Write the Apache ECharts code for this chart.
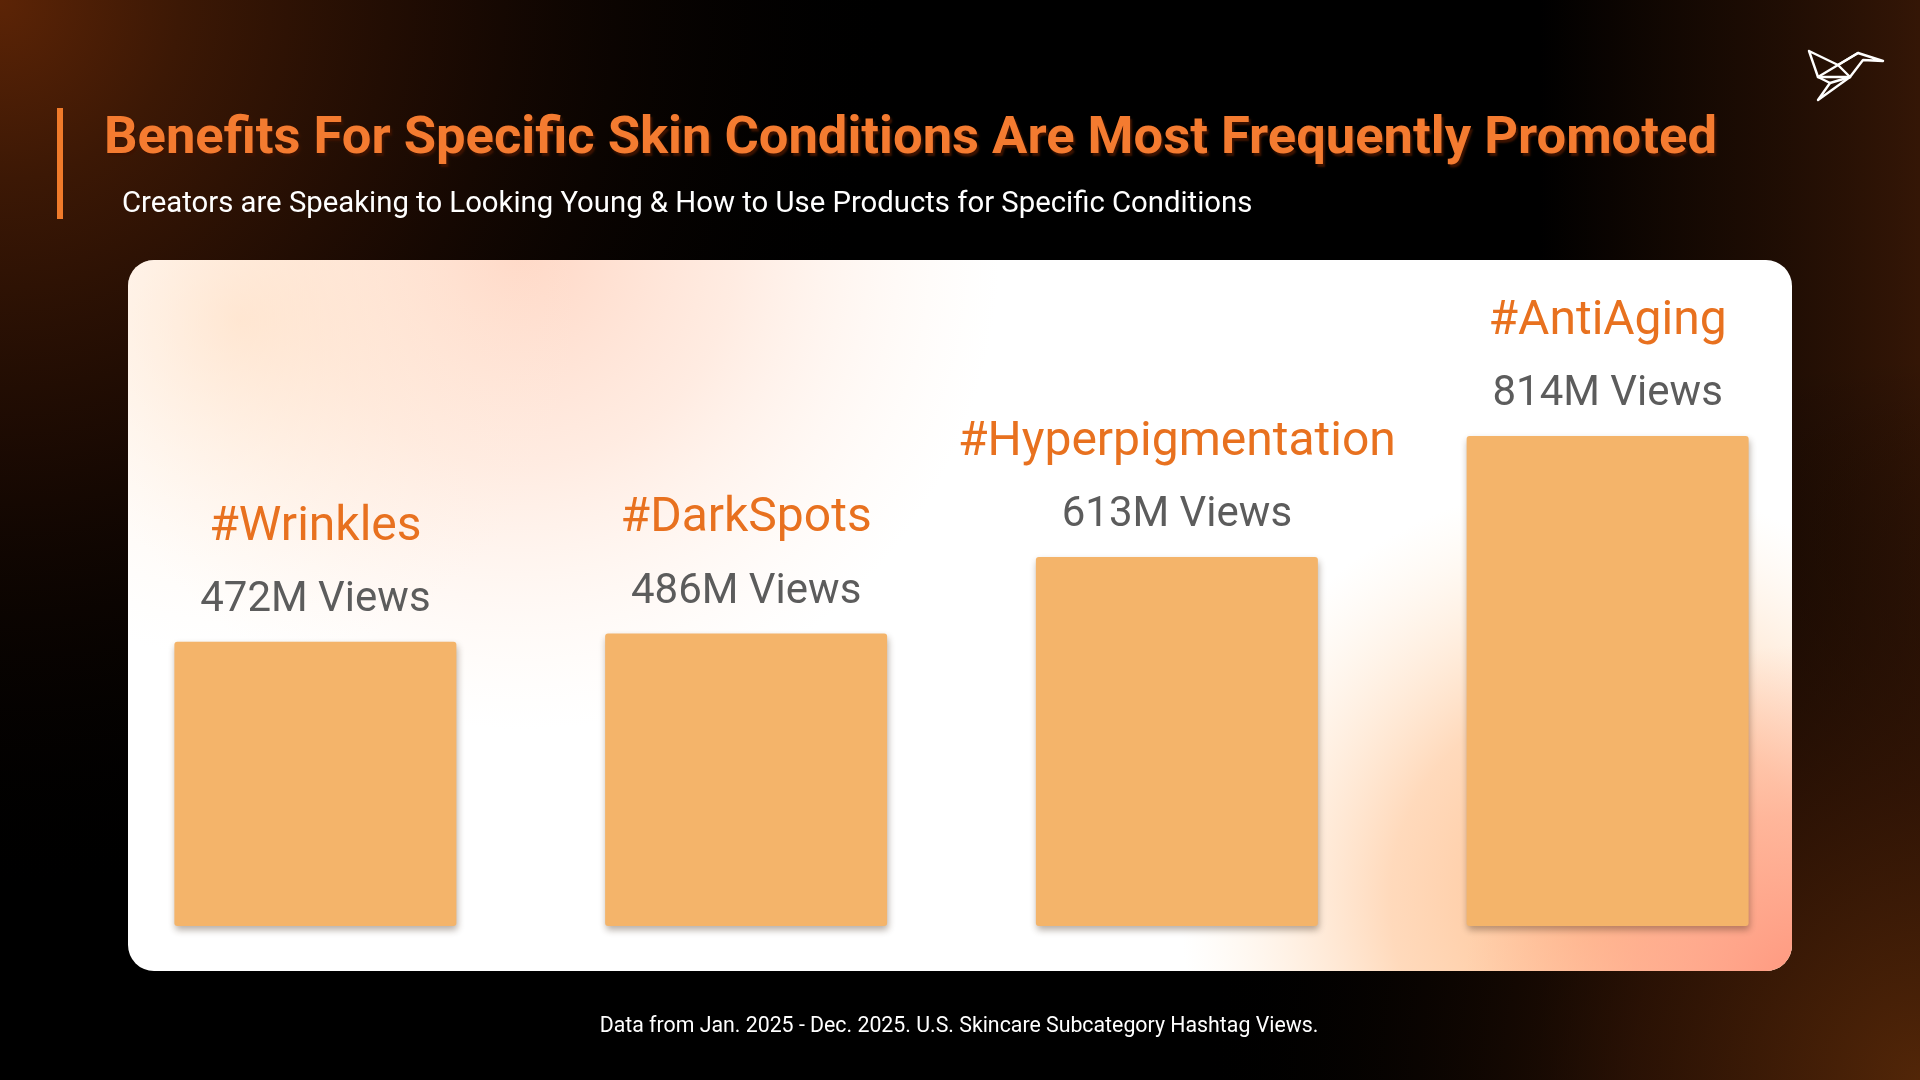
<!DOCTYPE html>
<html><head><meta charset="utf-8">
<script src="https://cdn.jsdelivr.net/npm/echarts@6/dist/echarts.min.js"></script>
<style>html,body{margin:0;padding:0;background:#000;overflow:hidden}#c{width:1920px;height:1080px}</style>
</head><body><div id="c"></div>
<script>
// ---- data ----
const categories = ['#Wrinkles', '#DarkSpots', '#Hyperpigmentation', '#AntiAging'];
const viewsMillions = [472, 486, 613, 814];
const titleText = 'Benefits For Specific Skin Conditions Are Most Frequently Promoted';
const subtitleText = 'Creators are Speaking to Looking Young & How to Use Products for Specific Conditions';
const footnoteText = 'Data from Jan. 2025 - Dec. 2025. U.S. Skincare Subcategory Hashtag Views.';

// ---- helpers ----
const measureCtx = document.createElement('canvas').getContext('2d');
function fitSize(text, weight, family, target) {
  measureCtx.font = weight + ' 100px ' + family;
  return 100 * target / measureCtx.measureText(text).width;
}
function radial(x, y, r, stops) {
  return { type: 'radial', x: x, y: y, r: r, global: true,
    colorStops: stops.map(s => ({ offset: s[0], color: s[1] })) };
}
function linear(x, y, x2, y2, stops) {
  return { type: 'linear', x: x, y: y, x2: x2, y2: y2, global: true,
    colorStops: stops.map(s => ({ offset: s[0], color: s[1] })) };
}

const W = 1920, H = 1080;
const panel = { x: 128, y: 260, width: 1664, height: 711, r: 26 };

const titleSize = fitSize(titleText, 'bold', 'Roboto', 1613);
const subSize = fitSize(subtitleText, 'normal', 'Roboto', 1131);
const footSize = fitSize(footnoteText, 'normal', 'Roboto', 719);

const bgLayers = [
  { type: 'rect', z: -10, shape: { x: 0, y: 0, width: W, height: H }, style: { fill: '#000' } },
  { type: 'rect', z: -10, shape: { x: 0, y: 0, width: W, height: H },
    style: { fill: radial(0, 0, 900, [[0, 'rgba(92,36,6,1)'], [0.2, 'rgba(60,24,5,1)'], [0.5, 'rgba(32,12,3,0.85)'], [1, 'rgba(0,0,0,0)']]) } },
  { type: 'rect', z: -10, shape: { x: 0, y: 0, width: W, height: H },
    style: { fill: linear(1540, 0, 1920, 0, [[0, 'rgba(40,16,4,0)'], [0.5, 'rgba(36,15,4,0.7)'], [1, 'rgba(52,22,6,1)']]) } },
  { type: 'rect', z: -10, shape: { x: 0, y: 0, width: W, height: H },
    style: { fill: radial(1920, 1080, 720, [[0, 'rgba(82,38,8,1)'], [0.4, 'rgba(48,20,5,0.8)'], [1, 'rgba(0,0,0,0)']]) } },
  // panel
  { type: 'rect', z: -9, shape: panel, style: { fill: '#ffffff' } },
  { type: 'rect', z: -9, shape: panel,
    style: { fill: radial(520, 250, 480, [[0, 'rgba(255,200,175,0.72)'], [0.45, 'rgba(255,212,190,0.45)'], [1, 'rgba(255,235,220,0)']]) } },
  { type: 'rect', z: -9, shape: panel,
    style: { fill: radial(240, 320, 340, [[0, 'rgba(255,220,188,0.55)'], [1, 'rgba(255,240,225,0)']]) } },
  { type: 'rect', z: -9, shape: panel,
    style: { fill: radial(1600, 900, 420, [[0, 'rgba(255,190,140,1)'], [0.5, 'rgba(255,205,165,0.75)'], [1, 'rgba(255,232,205,0)']]) } },
  { type: 'rect', z: -9, shape: panel,
    style: { fill: radial(1805, 985, 340, [[0, 'rgba(255,150,125,1)'], [0.5, 'rgba(255,160,135,0.6)'], [1, 'rgba(255,175,150,0)']]) } },
];

const accent = { type: 'rect', z: 5, shape: { x: 57, y: 108, width: 6, height: 111 }, style: { fill: '#F07A2A' } };

const texts = [
  { type: 'text', z: 5, x: 104, y: 140,
    style: { text: titleText, font: 'bold ' + titleSize.toFixed(2) + 'px Roboto', fill: '#F47B30',
      textVerticalAlign: 'middle', textAlign: 'left',
      textShadowColor: 'rgba(60,18,0,1)', textShadowOffsetX: 2, textShadowOffsetY: 3, textShadowBlur: 2 } },
  { type: 'text', z: 5, x: 122, y: 205,
    style: { text: subtitleText, font: 'normal ' + subSize.toFixed(2) + 'px Roboto', fill: '#ffffff',
      textVerticalAlign: 'middle', textAlign: 'left' } },
  { type: 'text', z: 5, x: 959, y: 1027,
    style: { text: footnoteText, font: 'normal ' + footSize.toFixed(2) + 'px Roboto', fill: '#ffffff',
      textVerticalAlign: 'middle', textAlign: 'center' } },
];

// origami bird logo
const o = [1808, 49];
function P(x, y) { return [o[0] + x, o[1] + y]; }
const logoStyle = { stroke: '#ffffff', lineWidth: 2.4, fill: null, lineJoin: 'round', lineCap: 'round' };
const logo = [
  { type: 'polyline', z: 5, shape: { points: [P(1, 2), P(30, 16), P(50, 4), P(75, 12), P(55, 11), P(42, 28), P(10, 51), P(22, 34), P(10, 28), P(1, 2)] }, style: logoStyle },
  { type: 'polyline', z: 5, shape: { points: [P(10, 28), P(42, 28)] }, style: logoStyle },
  { type: 'polyline', z: 5, shape: { points: [P(10, 28), P(30, 16), P(42, 28)] }, style: logoStyle },
  { type: 'polyline', z: 5, shape: { points: [P(30, 16), P(50, 4)] }, style: logoStyle },
  { type: 'polyline', z: 5, shape: { points: [P(22, 34), P(42, 28)] }, style: logoStyle },
];

const chart = echarts.init(document.getElementById('c'), null, { renderer: 'canvas', width: W, height: H });
chart.setOption({
  backgroundColor: '#000',
  animation: false,
  grid: { left: 100, right: 97, top: 324, bottom: 154, containLabel: false },
  xAxis: { type: 'category', data: categories, axisLine: { show: false }, axisTick: { show: false }, axisLabel: { show: false }, splitLine: { show: false } },
  yAxis: { type: 'value', min: 0, max: 1000, show: false, splitLine: { show: false } },
  graphic: { elements: bgLayers.concat([accent], texts, logo) },
  series: [{
    type: 'bar',
    data: viewsMillions,
    barWidth: 282,
    itemStyle: { color: '#F4B46A', borderRadius: 3, shadowColor: 'rgba(60,40,20,0.38)', shadowBlur: 7, shadowOffsetX: 1, shadowOffsetY: 4 },
    label: {
      show: true, position: 'top', distance: 11,
      formatter: p => '{h|' + categories[p.dataIndex] + '}\n{v|' + p.value + 'M Views}',
      rich: {
        h: { fontFamily: 'Roboto', fontWeight: 'normal', fontSize: 48, color: '#E8711F', lineHeight: 86, align: 'center' },
        v: { fontFamily: 'Roboto', fontSize: 42, color: '#5C5C5C', lineHeight: 60, align: 'center' }
      }
    }
  }]
});
</script>
</body></html>
